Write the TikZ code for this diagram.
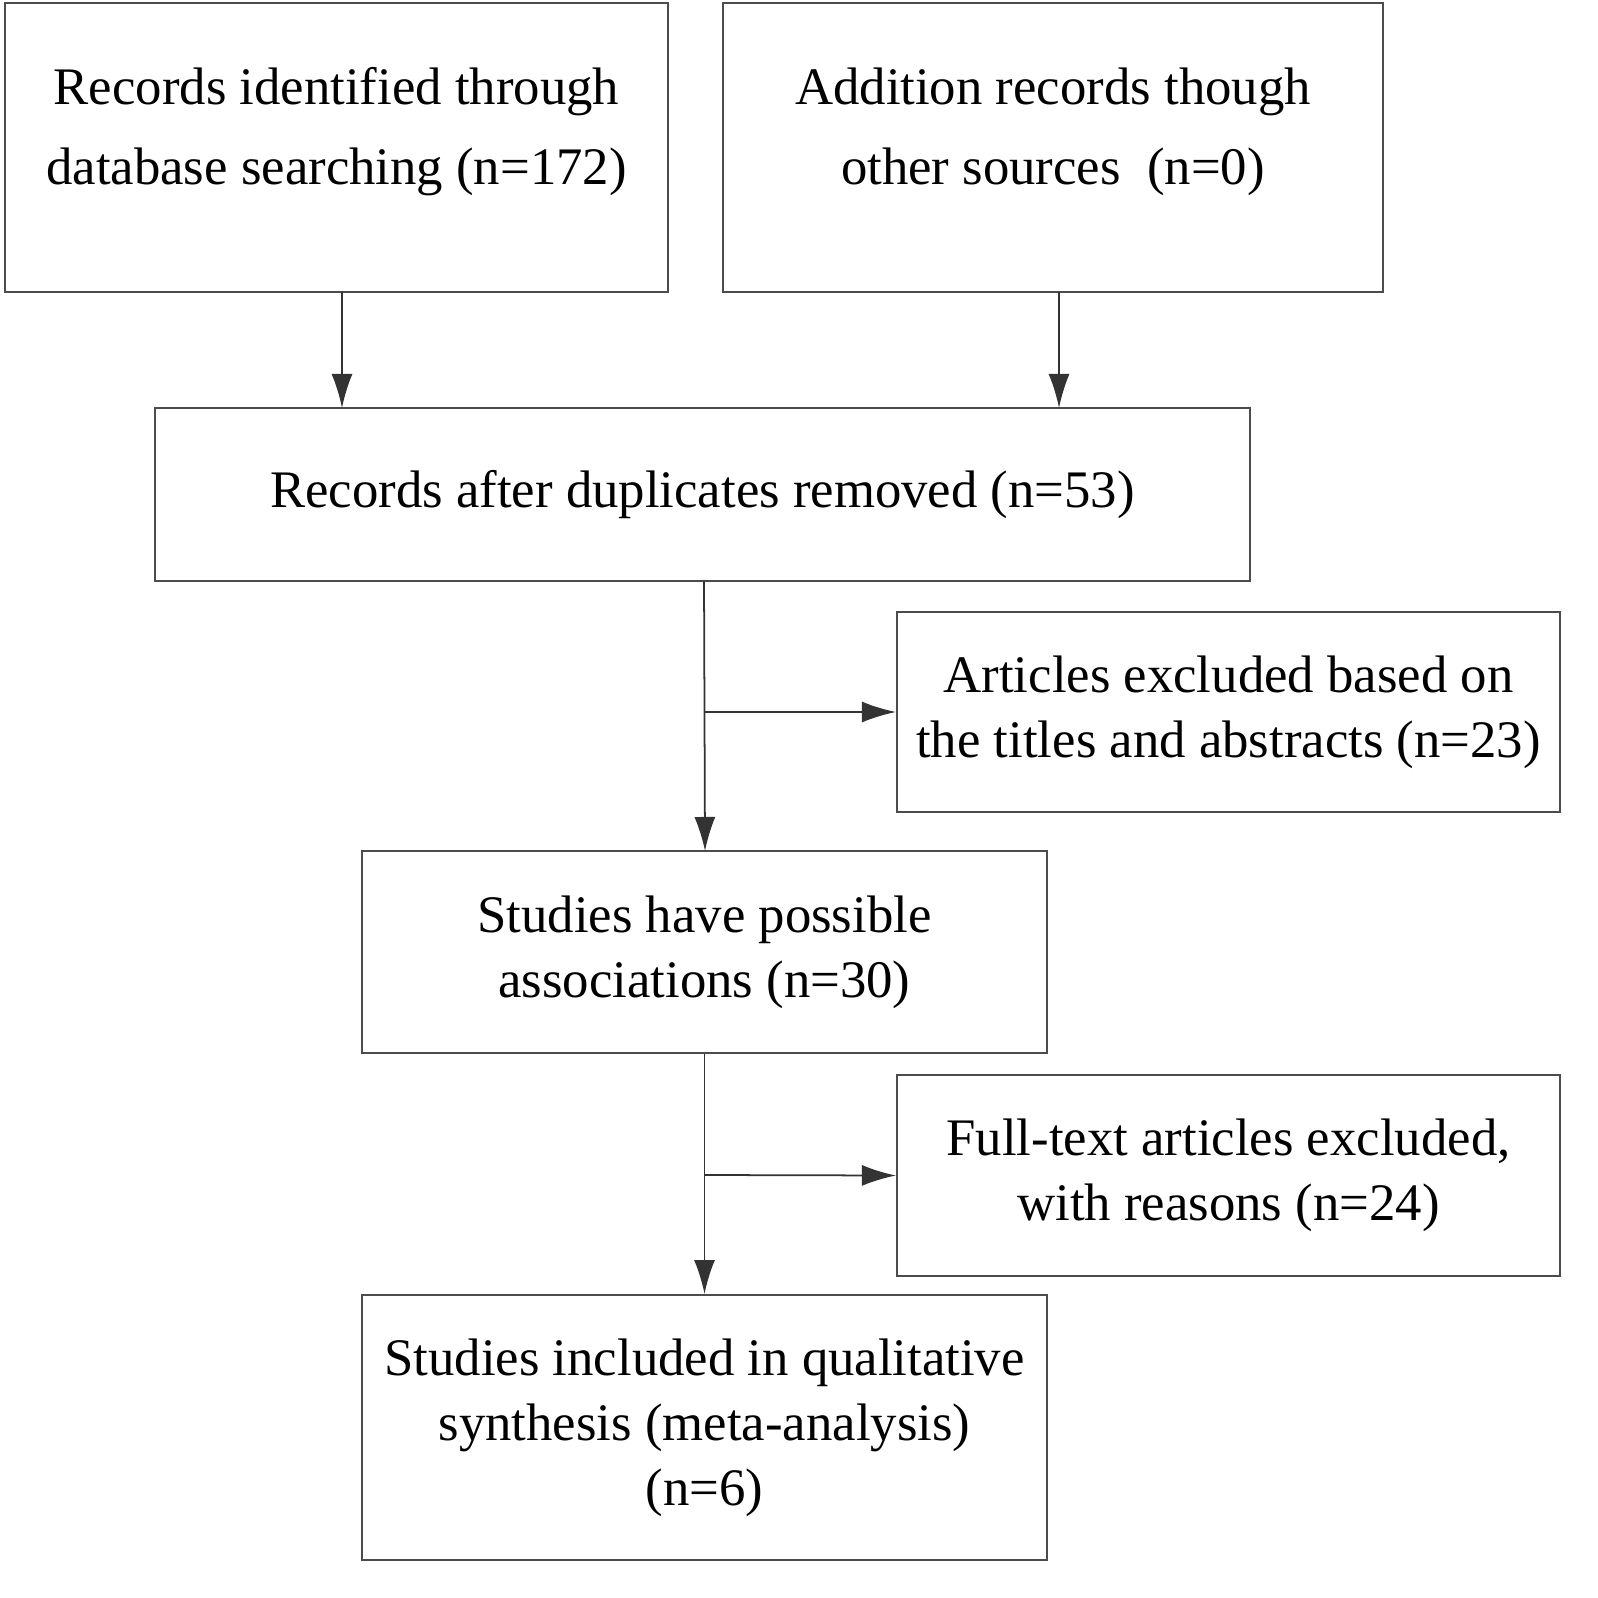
\documentclass[tikz,border=0pt]{standalone}
\usepackage{fontspec}
\setmainfont{Liberation Serif}
\usetikzlibrary{arrows.meta}
\begin{document}
\begin{tikzpicture}[x=0.01cm,y=-0.01cm]

  \tikzstyle{box}=[draw=black!70,line width=0.5pt,rectangle,inner sep=0pt,align=center,font=\fontsize{15}{18.5}\selectfont]
  \tikzstyle{arr}=[draw=black!80,line width=0.5pt,-{Latex[length=3.4mm,width=2.1mm]}]
  \tikzstyle{txt}=[align=center,font=\fontsize{15}{22.8}\selectfont]

  \useasboundingbox (0,0) rectangle (1598,1598);

  \node[box,minimum width=6.63cm,minimum height=2.89cm] (rec) at (336.5,147.5) {};
  \node[txt] (rectext) at (336.5,132) {Records identified through\\database searching (n=172)};
  \node[box,minimum width=6.60cm,minimum height=2.89cm] (add) at (1053,147.5) {};
  \node[txt] (addtext) at (1053,132) {Addition records though\\other sources\ \ (n=0)};

  \node[box,minimum width=10.95cm,minimum height=1.73cm] (dup) at (702.5,494.5) {Records after duplicates removed (n=53)};
  \node[box,minimum width=6.63cm,minimum height=2.00cm] (exc1) at (1228.5,712) {Articles excluded based on\\the titles and abstracts (n=23)};
  \node[box,minimum width=6.85cm,minimum height=2.02cm] (poss) at (704.5,952) {Studies have possible\\associations (n=30)};
  \node[box,minimum width=6.63cm,minimum height=2.01cm] (exc2) at (1228.5,1175.5) {Full-text articles excluded,\\with reasons (n=24)};
  \node[box,minimum width=6.85cm,minimum height=2.65cm] (inc) at (704.5,1427.5) {Studies included in qualitative\\synthesis (meta-analysis)\\(n=6)};

  \coordinate (b1) at (705,712);
  \coordinate (b2) at (705,1175);

  \draw[arr] (342,292) -- (342,408);
  \draw[arr] (1059,292) -- (1059,408);
  \draw[arr] (704,581) -- (705,851);
  \draw[arr] (b1) -- (exc1.west);
  \draw[arr] (poss.south) -- (inc.north);
  \draw[arr] (b2) -- (exc2.west);

\end{tikzpicture}
\end{document}
